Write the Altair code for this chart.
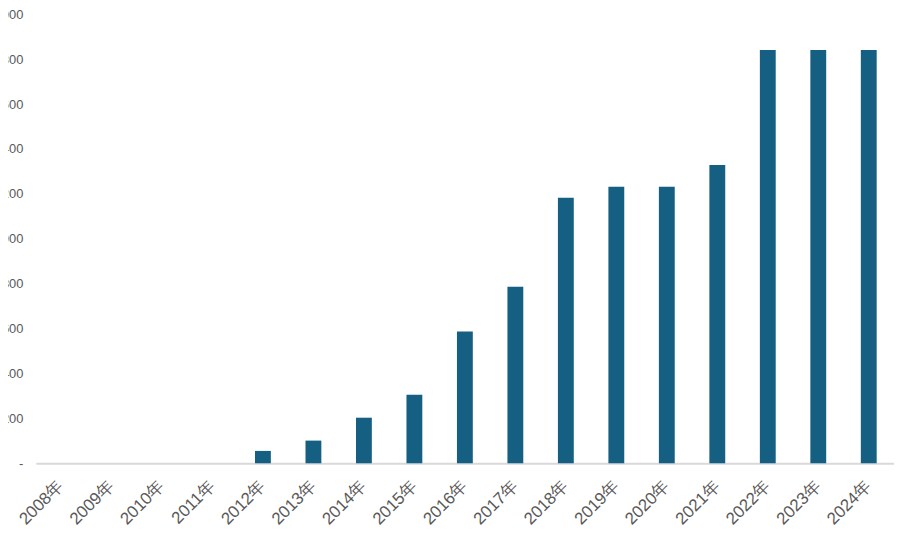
import altair as alt
import pandas as pd

years = [f"{y}年" for y in range(2008, 2025)]
values = [0, 0, 0, 0, 55, 101, 203, 305, 587, 786, 1183, 1232, 1232, 1329, 1841, 1841, 1841]
y_ticks = [0, 200, 400, 600, 800, 1000, 1200, 1400, 1600, 1800, 2000]

df = pd.DataFrame({"year": years, "value": values})

bars = alt.Chart(df).mark_bar(color="#156082").encode(
    x=alt.X("year:N", sort=years, title=None,
            scale=alt.Scale(paddingInner=0.686, paddingOuter=0.343),
            axis=alt.Axis(labelAngle=-45, labelAlign="right", labelBaseline="middle",
                          labelColor="#595959", labelFont="Liberation Sans", labelFontSize=17,
                          labelPadding=20, ticks=False, domainColor="#d9d9d9",
                          domainWidth=2)),
    y=alt.Y("value:Q", title=None,
            scale=alt.Scale(domain=[0, 2000], nice=False),
            axis=alt.Axis(values=y_ticks, grid=False, domain=False, ticks=False,
                          labelColor="#595959", labelFont="Liberation Sans", labelFontSize=13,
                          labelPadding=13,
                          labelExpr="datum.value == 0 ? '-' : format(datum.value, ',')")),
)

chart = bars.properties(
    width=866, height=453,
    autosize=alt.AutoSizeParams(type="none"),
    padding={"left": 28, "top": 4, "right": 0, "bottom": 70},
).configure_view(stroke=None)

chart.save("out.html", embed_options={"renderer": "svg", "actions": False})
